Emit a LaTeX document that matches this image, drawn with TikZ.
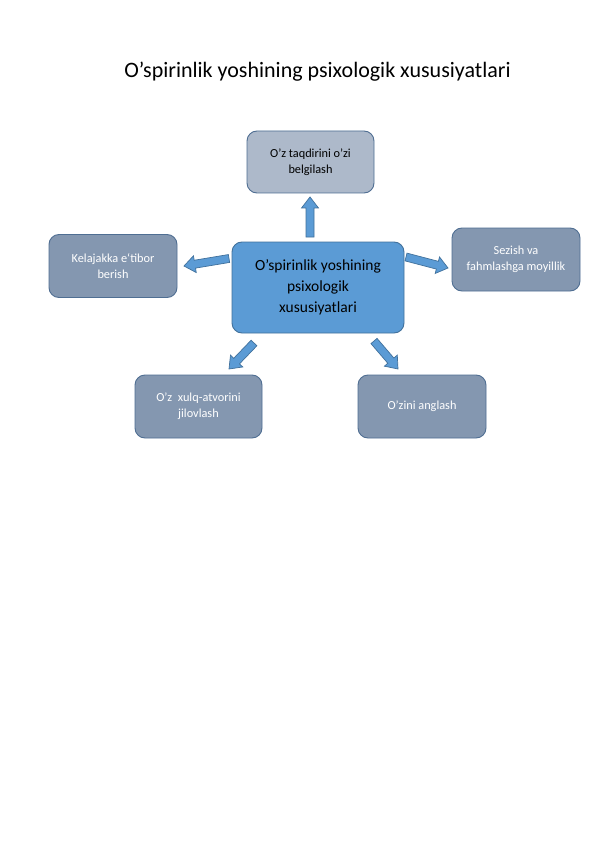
\documentclass[tikz,border=0pt]{standalone}
\usepackage{fontspec}
\setmainfont{Carlito}
\usetikzlibrary{calc}
\definecolor{cfill}{HTML}{5B9BD5}
\definecolor{cline}{HTML}{41719C}
\definecolor{tfill}{HTML}{ADB9CA}
\definecolor{gfill}{HTML}{8497B0}
\definecolor{gline}{HTML}{4F6E92}
\tikzset{
  box/.style={draw=gline, line width=0.9pt, rounded corners=10pt, align=center, inner sep=2pt},
  greybox/.style={box, fill=gfill, text=white, font=\fontsize{12.3}{16}\selectfont, minimum width=128pt, minimum height=63pt},
  topbox/.style={box, fill=tfill, text=black, font=\fontsize{12.3}{16}\selectfont, minimum width=127pt, minimum height=62pt},
  centerbox/.style={box, draw=cline, fill=cfill, text=black, font=\fontsize{15.5}{21}\selectfont, minimum width=172pt, minimum height=91pt},
  barrow/.style={draw=cline, line width=0.7pt, fill=cfill, line join=miter}
}
\newcommand{\blockarrow}[2]{%
  \path[barrow] ($(#1)!4pt!90:(#2)$) -- ($($(#2)!11pt!(#1)$)!4pt!90:(#2)$)
    -- ($($(#2)!11pt!(#1)$)!8.5pt!90:(#2)$) -- (#2)
    -- ($($(#2)!11pt!(#1)$)!8.5pt!-90:(#2)$) -- ($($(#2)!11pt!(#1)$)!4pt!-90:(#2)$)
    -- ($(#1)!4pt!-90:(#2)$) -- cycle;}
\begin{document}
\begin{tikzpicture}[x=1pt,y=-1pt]
\useasboundingbox[fill=white] (0,0) rectangle (596,842);
\node[font=\fontsize{22}{26}\selectfont] (title) at (317.5,72) {O’spirinlik yoshining psixologik xususiyatlari};
\node[centerbox] (c) at (318,287.5) {O'spirinlik yoshining\\psixologik\\xususiyatlari};
\node[topbox] (t) at (310.5,162) {O’z taqdirini o’zi\\belgilash};
\node[greybox] (l) at (113,266) {Kelajakka e‘tibor\\berish};
\node[greybox] (r) at (516,259.5) {Sezish va\\fahmlashga moyillik};
\node[greybox, minimum width=127pt] (bl) at (198.5,406.5) {O’z\ \ xulq-atvorini\\jilovlash};
\node[greybox] (br) at (422,406.5) {O’zini anglash};
\coordinate (ua) at (310,237); \coordinate (ub) at (310,197);
\coordinate (la) at (229,258.5); \coordinate (lb) at (184,266);
\coordinate (ra) at (406,257); \coordinate (rb) at (448,268);
\coordinate (bla) at (254,343); \coordinate (blb) at (229,369);
\coordinate (bra) at (374,341); \coordinate (brb) at (398,369);
\blockarrow{ua}{ub}
\blockarrow{la}{lb}
\blockarrow{ra}{rb}
\blockarrow{bla}{blb}
\blockarrow{bra}{brb}
\end{tikzpicture}
\end{document}
